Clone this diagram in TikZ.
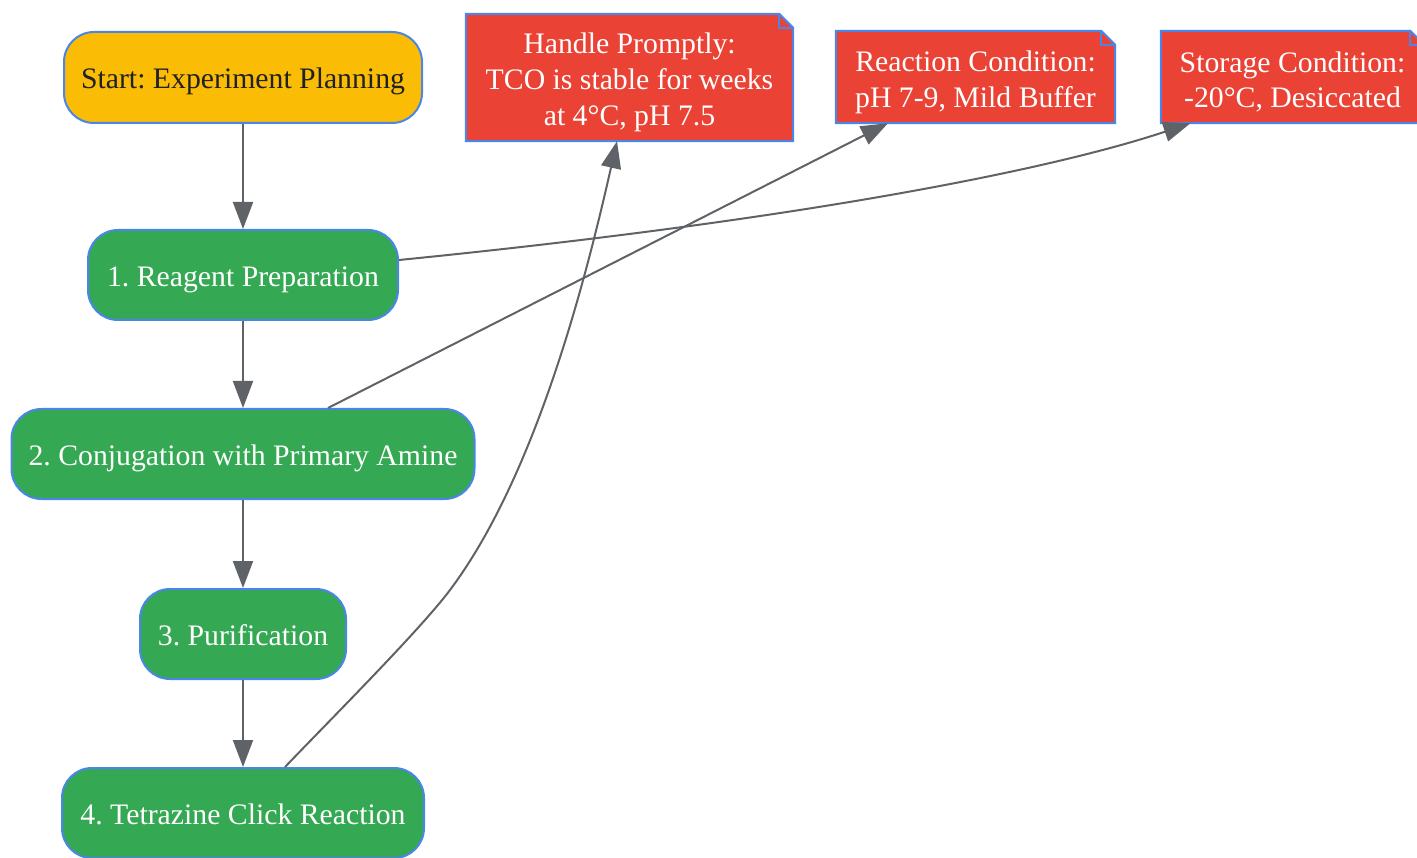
\documentclass[tikz,border=0pt]{standalone}
\usepackage{fontspec}
\setmainfont{Liberation Serif}
\usetikzlibrary{arrows.meta,backgrounds}
\definecolor{gyellow}{HTML}{FBBC05}
\definecolor{ggreen}{HTML}{34A853}
\definecolor{gred}{HTML}{EA4335}
\definecolor{gblue}{HTML}{4A86E8}
\definecolor{ggray}{HTML}{5F6368}
\definecolor{gdark}{HTML}{202124}
\frenchspacing
\begin{document}
\begin{tikzpicture}[x=1pt,y=-1pt,
  base/.style={font=\fontsize{29.75}{35.7}\selectfont\frenchspacing, inner sep=0pt, align=center},
  stepbox/.style={base, text height=23pt, text depth=0pt, rounded corners=30pt, draw=gblue, line width=2pt, fill=ggreen, text=white, minimum height=90pt},
  startbox/.style={stepbox, fill=gyellow, text=gdark},
  notebox/.style={base, text=white},
  notepath/.style={fill=gred, draw=gblue, line width=2pt},
  edge/.style={draw=ggray, line width=2pt, -{Triangle[length=27pt,width=20pt]}}
]
\useasboundingbox (0,0) rectangle (1417,858);
\clip (0,0) rectangle (1417,858);

\node[startbox, minimum width=358pt, minimum height=91pt] (start) at (243,77.5) {Start: Experiment Planning};
\node[stepbox, minimum width=310pt] (reag) at (243,275) {1. Reagent Preparation};
\node[stepbox, minimum width=463pt] (conj) at (243,454) {2. Conjugation with Primary Amine};
\node[stepbox, minimum width=206pt] (puri) at (243,634) {3. Purification};
\node[stepbox, minimum width=362pt] (tetra) at (243,813) {4. Tetrazine Click Reaction};

% note texts sit 5pt below the centre of their outlines
\node[notebox, minimum width=327pt, minimum height=127pt] (handle) at (629.5,82.5) {Handle Promptly:\\TCO is stable for weeks\\at 4°C, pH 7.5};
\node[notebox, minimum width=279pt, minimum height=92pt] (react) at (975.5,82) {Reaction Condition:\\pH 7-9, Mild Buffer};
\node[notebox, minimum width=263pt, minimum height=92pt] (store) at (1292.5,82) {Storage Condition:\\-20°C, Desiccated};

\begin{scope}[on background layer]
\foreach \n in {handle,react,store}{
  \filldraw[notepath] ([yshift=5pt]\n.south west) -- ([yshift=5pt]\n.north west) -- ([xshift=-14pt,yshift=5pt]\n.north east) -- ([yshift=-9pt]\n.north east) -- ([yshift=5pt]\n.south east) -- cycle;
  \draw[draw=gblue, line width=2pt] ([xshift=-14pt,yshift=5pt]\n.north east) -- ([xshift=-14pt,yshift=-9pt]\n.north east) -- ([yshift=-9pt]\n.north east);
}
\end{scope}

\draw[edge] (start) -- (reag);
\draw[edge] (reag) -- (conj);
\draw[edge] (conj) -- (puri);
\draw[edge] (puri) -- (tetra);
\draw[edge] ([yshift=15pt]reag.east) .. controls (800,220) and (1050,170) .. ([xshift=-102pt,yshift=5pt]store.south);
\draw[edge] ([xshift=85pt]conj.north) -- ([xshift=-87.5pt,yshift=5pt]react.south);
\draw[edge] ([xshift=42pt]tetra.north) .. controls (330,720) and (420,630) .. (450,590) .. controls (540,470) and (590,260) .. ([xshift=-12.5pt,yshift=5pt]handle.south);
\end{tikzpicture}
\end{document}
